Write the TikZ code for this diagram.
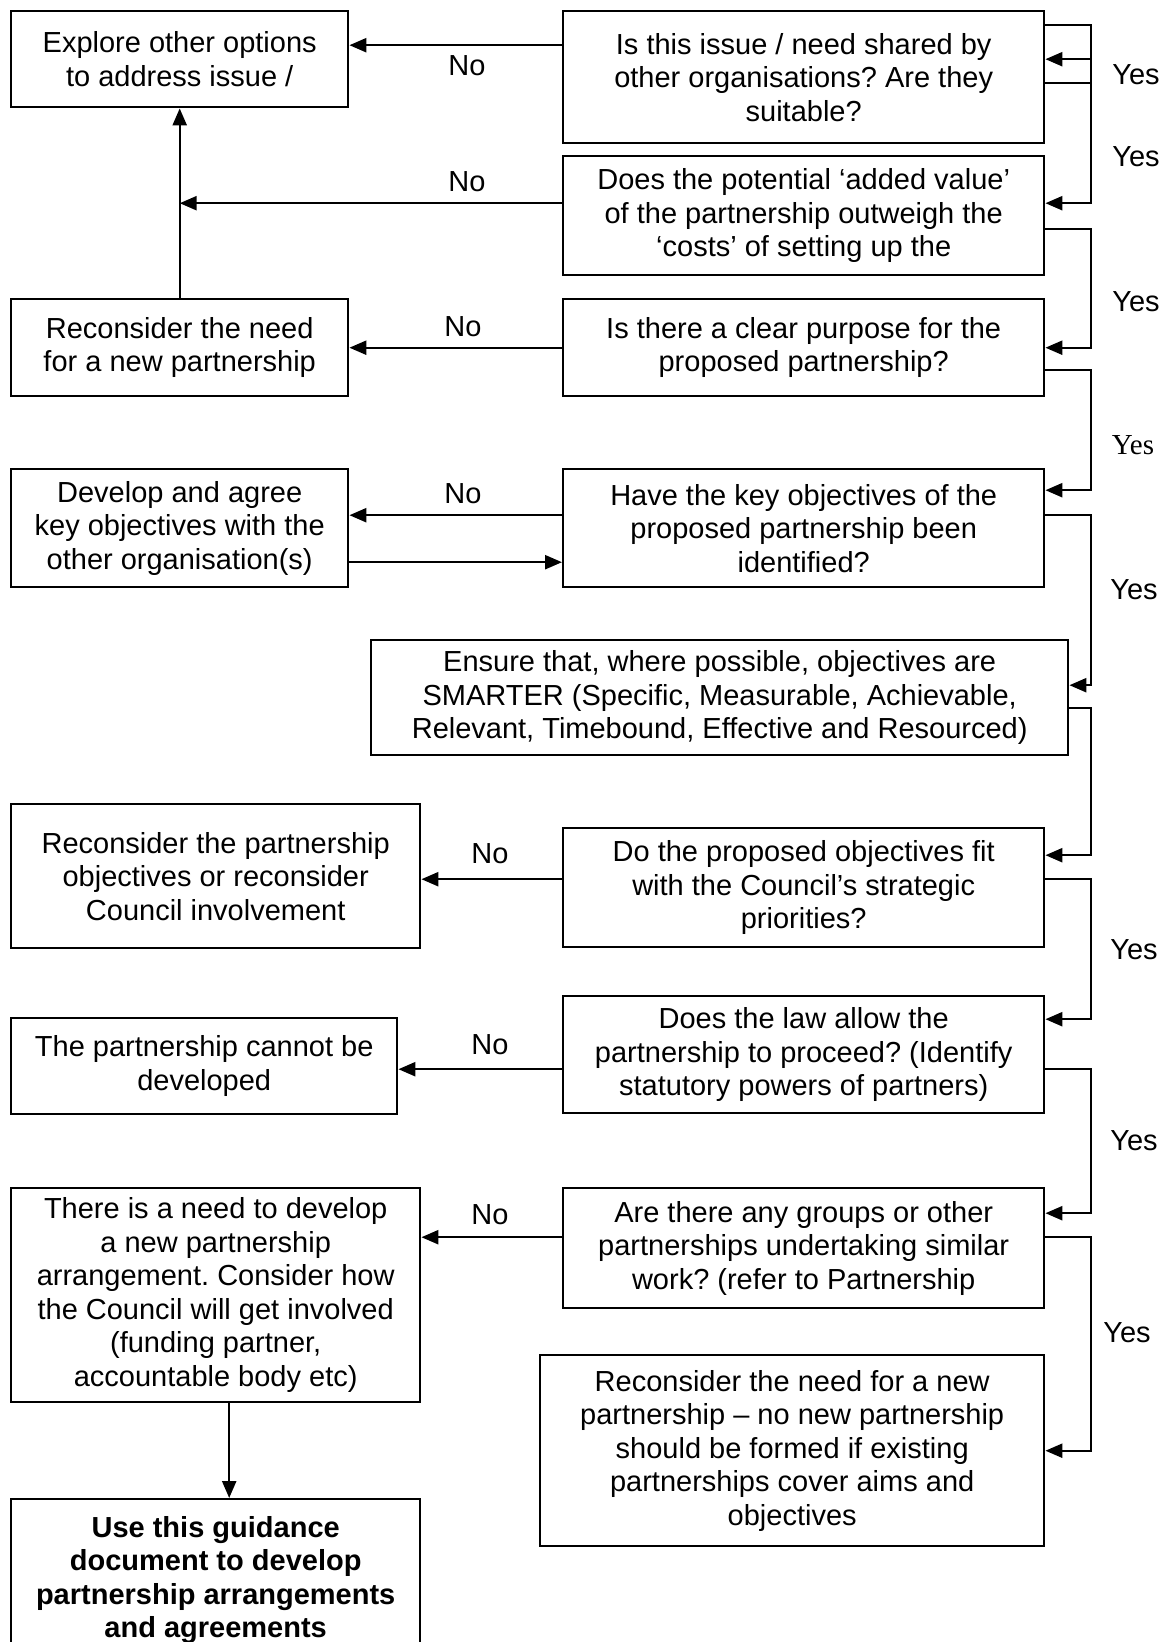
\documentclass[tikz,border=0pt]{standalone}
\usepackage{fontspec}
\setmainfont{Liberation Sans}
\newfontfamily\yesserif{Liberation Serif}
\usetikzlibrary{arrows.meta}
\frenchspacing

\begin{document}
\begin{tikzpicture}[x=1pt, y=-1pt, line width=2.4pt, >={Triangle[length=17pt,width=14pt]},
    every node/.style={font=\fontsize{29}{33.5}\selectfont},
    box/.style={draw, align=center, anchor=north west, inner sep=2pt},
    lbl/.style={inner sep=0pt}]
    \useasboundingbox (0,0) rectangle (1173,1642);
    \clip (0,0) rectangle (1173,1642);
    \coordinate (rail) at (1091,0);

    \node[box, minimum width=337pt, minimum height=96pt] (expl) at (10,10) {Explore other options\\to address issue /};
    \node[box, minimum width=481pt, minimum height=132pt] (q1) at (562,10) {Is this issue / need shared by\\other organisations? Are they\\suitable?};
    \node[box, minimum width=481pt, minimum height=119pt] (q2) at (562,155) {Does the potential ‘added value’\\of the partnership outweigh the\\‘costs’ of setting up the};
    \node[box, minimum width=337pt, minimum height=97pt] (recon) at (10,298) {Reconsider the need\\for a new partnership};
    \node[box, minimum width=481pt, minimum height=97pt] (q3) at (562,298) {Is there a clear purpose for the\\proposed partnership?};
    \node[box, minimum width=337pt, minimum height=118pt] (devel) at (10,468) {Develop and agree\\key objectives with the\\other organisation(s)};
    \node[box, minimum width=481pt, minimum height=118pt] (q4) at (562,468) {Have the key objectives of the\\proposed partnership been\\identified?};
    \node[box, minimum width=697pt, minimum height=115pt] (smart) at (370,639) {Ensure that, where possible, objectives are\\SMARTER (Specific, Measurable, Achievable,\\Relevant, Timebound, Effective and Resourced)};
    \node[box, minimum width=409pt, minimum height=144pt] (reobj) at (10,803) {Reconsider the partnership\\objectives or reconsider\\Council involvement};
    \node[box, minimum width=481pt, minimum height=119pt] (q5) at (562,827) {Do the proposed objectives fit\\with the Council’s strategic\\priorities?};
    \node[box, minimum width=386pt, minimum height=96pt] (cannot) at (10,1017) {The partnership cannot be\\developed};
    \node[box, minimum width=481pt, minimum height=117pt] (q6) at (562,995) {Does the law allow the\\partnership to proceed? (Identify\\statutory powers of partners)};
    \node[box, minimum width=409pt, minimum height=214pt] (need) at (10,1187) {There is a need to develop\\a new partnership\\arrangement. Consider how\\the Council will get involved\\(funding partner,\\accountable body etc)};
    \node[box, minimum width=481pt, minimum height=120pt] (q7) at (562,1187) {Are there any groups or other\\partnerships undertaking similar\\work? (refer to Partnership};
    \node[box, minimum width=504pt, minimum height=191pt] (renew) at (539,1354) {Reconsider the need for a new\\partnership – no new partnership\\should be formed if existing\\partnerships cover aims and\\objectives};
    \node[box, minimum width=409pt, minimum height=162pt, font=\fontsize{29}{33.5}\selectfont\bfseries] (guide) at (10,1498) {Use this guidance\\document to develop\\partnership arrangements\\and agreements};

    \node[lbl] (no1) at (467,66) {No};
    \node[lbl] (no2) at (467,182) {No};
    \node[lbl] (no3) at (463,327) {No};
    \node[lbl] (no4) at (463,494) {No};
    \node[lbl] (no5) at (490,854) {No};
    \node[lbl] (no6) at (490,1045) {No};
    \node[lbl] (no7) at (490,1215) {No};
    \node[lbl] (yes1) at (1136,75) {Yes};
    \node[lbl] (yes2) at (1136,157) {Yes};
    \node[lbl] (yes3) at (1136,302) {Yes};
    \node[lbl, font=\fontsize{29}{33.5}\selectfont\yesserif] (yes4) at (1133,445) {Yes};
    \node[lbl] (yes5) at (1134,590) {Yes};
    \node[lbl] (yes6) at (1134,950) {Yes};
    \node[lbl] (yes7) at (1134,1141) {Yes};
    \node[lbl] (yes8) at (1127,1333) {Yes};

    \draw[->] ([yshift=32pt]q1.west) -- ([yshift=32pt]q1.west -| expl.east);
    \draw ([yshift=52pt]q1.east) -- ([yshift=52pt]q1.east -| rail) -- ([yshift=-6pt]q1.east -| rail);
    \draw[->] ([yshift=18pt]q1.east -| rail) -- ([yshift=18pt]q1.east);
    \draw[->] ([yshift=-6pt]q1.east) -- ([yshift=-6pt]q1.east -| rail) |- ([yshift=12.5pt]q2.east);
    \draw[->] ([yshift=12.5pt]q2.west) -- ([yshift=12.5pt]q2.west -| recon.north);
    \draw[->] (recon) -- (expl);
    \draw[->] ([yshift=-13.5pt]q2.east) -- ([yshift=-13.5pt]q2.east -| rail) |- (q3.east);
    \draw[->] (q3) -- (recon);
    \draw[->] ([yshift=-22.5pt]q3.east) -- ([yshift=-22.5pt]q3.east -| rail) |- ([yshift=38pt]q4.east);
    \draw[->] ([yshift=13pt]q4.west) -- ([yshift=13pt]q4.west -| devel.east);
    \draw[->] ([yshift=-34pt]devel.east) -- ([yshift=-34pt]devel.east -| q4.west);
    \draw[->] ([yshift=13pt]q4.east) -- ([yshift=13pt]q4.east -| rail) |- ([yshift=12.5pt]smart.east);
    \draw[->] ([yshift=-10.5pt]smart.east) -- ([yshift=-10.5pt]smart.east -| rail) |- ([yshift=32.5pt]q5.east);
    \draw[->] ([yshift=8.5pt]q5.west) -- ([yshift=8.5pt]q5.west -| reobj.east);
    \draw[->] ([yshift=8.5pt]q5.east) -- ([yshift=8.5pt]q5.east -| rail) |- ([yshift=35.5pt]q6.east);
    \draw[->] ([yshift=-14.5pt]q6.west) -- ([yshift=-14.5pt]q6.west -| cannot.east);
    \draw[->] ([yshift=-14.5pt]q6.east) -- ([yshift=-14.5pt]q6.east -| rail) |- ([yshift=35pt]q7.east);
    \draw[->] ([yshift=11pt]q7.west) -- ([yshift=11pt]q7.west -| need.east);
    \draw[->] ([yshift=11pt]q7.east) -- ([yshift=11pt]q7.east -| rail) |- (renew.east);
    \draw[->] ([xshift=13.5pt]need.south) -- ([xshift=13.5pt]guide.north);
\end{tikzpicture}
\end{document}
